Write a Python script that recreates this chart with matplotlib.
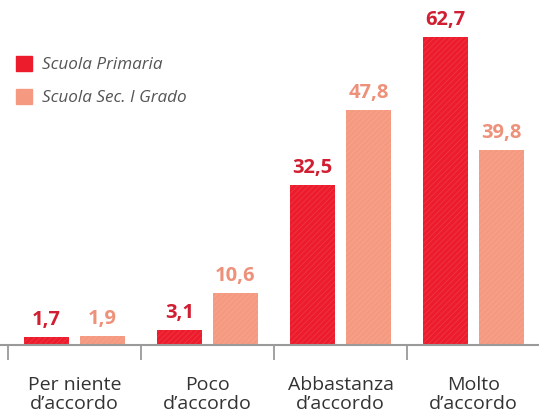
import matplotlib.pyplot as plt
import matplotlib.patches as mpatches
import numpy as np

categories = ["Per niente\nd\u2019accordo", "Poco\nd\u2019accordo", "Abbastanza\nd\u2019accordo", "Molto\nd\u2019accordo"]
primaria = [1.7, 3.1, 32.5, 62.7]
secondaria = [1.9, 10.6, 47.8, 39.8]
series_names = ["Scuola Primaria", "Scuola Sec. I Grado"]

red = "#EC1C2D"
salmon = "#F59A80"
red_txt = "#D01F32"
salmon_txt = "#EE917A"

plt.rcParams["font.family"] = ["Open Sans", "DejaVu Sans"]
plt.rcParams["hatch.linewidth"] = 0.5

fig = plt.figure(figsize=(5.39, 4.12), dpi=100)
ax = fig.add_axes([0, 1 - 345 / 412, 1, 345 / 412])

x = np.arange(len(categories))
w = 0.34
b1 = ax.bar(x + 0.29, primaria, w, color=red, edgecolor="#EF3A48", linewidth=0, hatch="//////")
b2 = ax.bar(x + 0.71, secondaria, w, color=salmon, edgecolor="#F7A790", linewidth=0, hatch="//////")

for bars, vals, c in [(b1, primaria, red_txt), (b2, secondaria, salmon_txt)]:
    for r, v in zip(bars, vals):
        ax.annotate(f"{v:.1f}".replace(".", ","), (r.get_x() + r.get_width() / 2, v),
                    xytext=(0, 5), textcoords="offset points", ha="center", va="bottom",
                    fontsize=14.5, fontweight="bold", color=c)

ax.set_xlim(-8 / 133, 531 / 133)
ax.set_ylim(0, 345 / 4.91)

for s in ["top", "left", "right"]:
    ax.spines[s].set_visible(False)
ax.spines["bottom"].set_color("#9a9a9a")
ax.spines["bottom"].set_linewidth(1.5)
ax.set_yticks([])

ax.set_xticks(x)
ax.set_xticklabels([])
ax.tick_params(axis="x", which="major", length=11, width=1.3, color="#9a9a9a")
ax.set_xticks(x + 0.5, minor=True)
ax.set_xticklabels(categories, minor=True, fontsize=14, color="#333333", linespacing=1.1)
ax.tick_params(axis="x", which="minor", length=0, pad=22)

handles = [mpatches.Patch(color=red, label=series_names[0]),
           mpatches.Patch(color=salmon, label=series_names[1])]
leg = ax.legend(handles=handles, loc="upper left", bbox_to_anchor=(16 / 539, 0.838),
                frameon=False, borderpad=0, borderaxespad=0, handlelength=0.95,
                handleheight=0.95, handletextpad=0.6, labelspacing=0.92,
                prop={"style": "italic", "size": 12.3})
for t in leg.get_texts():
    t.set_color("#555555")

fig.savefig("out.png", dpi=100)
